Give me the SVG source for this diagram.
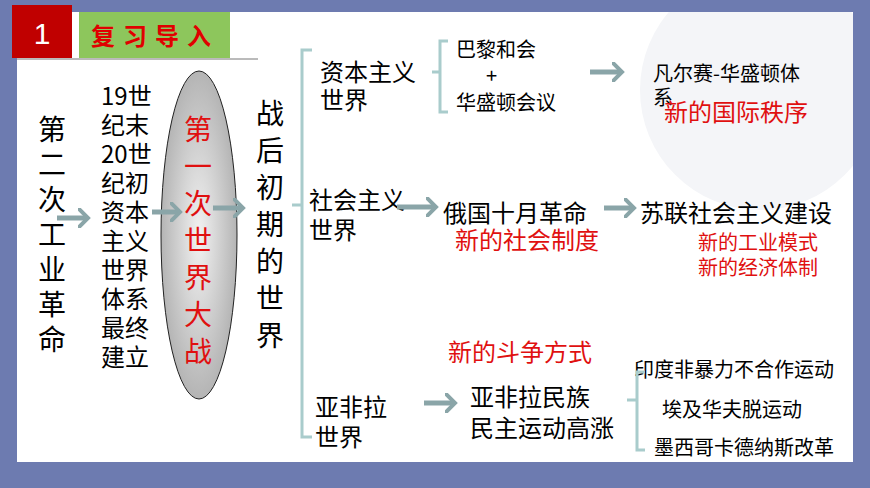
<svg xmlns="http://www.w3.org/2000/svg" width="870" height="488" viewBox="0 0 870 488">
<defs>
<radialGradient id="g" cx="50%" cy="50%" r="60%"><stop offset="0" stop-color="#f2f2f2"/><stop offset="1" stop-color="#a8a8a8"/></radialGradient>
<clipPath id="cp"><rect x="17" y="12" width="836" height="450"/></clipPath>
<marker id="ah" markerWidth="4" markerHeight="4" refX="2" refY="2" orient="auto" markerUnits="strokeWidth"><path d="M0,0 L2,2 L0,4" fill="none" stroke="#8aa5a8" stroke-width="0.8"/></marker>
</defs>
<style>
.k{font-family:"Noto Sans CJK SC","Liberation Sans",sans-serif;fill:#000}
.r{font-family:"Noto Sans CJK SC","Liberation Sans",sans-serif;fill:#e01010}
.a{stroke:#8aa5a8;stroke-width:5;fill:none;marker-end:url(#ah)}
.b{stroke:#a9cccc;stroke-width:3;fill:none}
</style>
<rect width="870" height="488" fill="#6d7bb0"/>
<rect x="17" y="12" width="836" height="450" fill="#fff"/>
<circle cx="760" cy="90" r="120" fill="#f4f5f8" clip-path="url(#cp)"/>
<rect x="12" y="5" width="60" height="53" fill="#c00000"/>
<text x="42" y="44" font-family="Liberation Sans,sans-serif" font-size="30" fill="#fff" text-anchor="middle">1</text>
<rect x="79" y="12" width="151" height="46" fill="#8dc65c"/>
<text x="155" y="45" font-family="Noto Sans CJK SC,sans-serif" font-size="24" font-weight="bold" fill="#e00000" text-anchor="middle" letter-spacing="8">复习导入</text>
<line x1="17" y1="59" x2="258" y2="59" stroke="#777" stroke-width="1"/>
<g id="n1"><text class="k" font-size="28"><tspan x="38" y="140">第</tspan><tspan x="38" y="175">二</tspan><tspan x="38" y="210">次</tspan><tspan x="38" y="245">工</tspan><tspan x="38" y="280">业</tspan><tspan x="38" y="315">革</tspan><tspan x="38" y="350">命</tspan></text></g>
<g id="n3"><ellipse cx="199" cy="235" rx="38" ry="164" fill="url(#g)" stroke="#222" stroke-width="1"/>
<text class="r" font-size="28"><tspan x="184" y="140">第</tspan><tspan x="184" y="177">一</tspan><tspan x="184" y="214">次</tspan><tspan x="184" y="251">世</tspan><tspan x="184" y="288">界</tspan><tspan x="184" y="325">大</tspan><tspan x="184" y="362">战</tspan></text></g>
<g id="n2"><text class="k" font-size="24"><tspan x="101" y="105">19世</tspan><tspan x="101" y="134">纪末</tspan><tspan x="101" y="163">20世</tspan><tspan x="101" y="192">纪初</tspan><tspan x="101" y="221">资本</tspan><tspan x="101" y="250">主义</tspan><tspan x="101" y="279">世界</tspan><tspan x="101" y="308">体系</tspan><tspan x="101" y="337">最终</tspan><tspan x="101" y="366">建立</tspan></text></g>
<g id="n4"><text class="k" font-size="28"><tspan x="256" y="124">战</tspan><tspan x="256" y="161">后</tspan><tspan x="256" y="198">初</tspan><tspan x="256" y="235">期</tspan><tspan x="256" y="272">的</tspan><tspan x="256" y="309">世</tspan><tspan x="256" y="346">界</tspan></text></g>
<g id="n5"><text class="k" font-size="24"><tspan x="320" y="81">资本主义</tspan><tspan x="320" y="109">世界</tspan></text></g>
<g id="n6"><text class="k" font-size="20"><tspan x="456" y="57">巴黎和会</tspan><tspan x="486" y="83">+</tspan><tspan x="456" y="110">华盛顿会议</tspan></text></g>
<g id="n7"><text class="k" font-size="20"><tspan x="653" y="81">凡尔赛-华盛顿体</tspan><tspan x="653" y="105">系</tspan></text><text class="r" font-size="24" x="664" y="121">新的国际秩序</text></g>
<g id="n8"><text class="k" font-size="24"><tspan x="309" y="209">社会主义</tspan><tspan x="309" y="239">世界</tspan></text></g>
<g id="n9"><text class="k" font-size="24" x="443" y="222">俄国十月革命</text><text class="r" font-size="24" x="455" y="249">新的社会制度</text></g>
<g id="n10"><text class="k" font-size="24" x="640" y="222">苏联社会主义建设</text><text class="r" font-size="20"><tspan x="698" y="250">新的工业模式</tspan><tspan x="698" y="275">新的经济体制</tspan></text></g>
<g id="n11"><text class="r" font-size="24" x="448" y="361">新的斗争方式</text></g>
<g id="n12"><text class="k" font-size="24"><tspan x="315" y="416">亚非拉</tspan><tspan x="315" y="446">世界</tspan></text></g>
<g id="n13"><text class="k" font-size="24"><tspan x="470" y="406">亚非拉民族</tspan><tspan x="470" y="437">民主运动高涨</tspan></text></g>
<g id="n14"><text class="k" font-size="20"><tspan x="634" y="377">印度非暴力不合作运动</tspan><tspan x="662" y="417">埃及华夫脱运动</tspan><tspan x="654" y="455">墨西哥卡德纳斯改革</tspan></text></g>
<g id="connectors">
<line class="a" x1="57" y1="218" x2="88" y2="218"/>
<line class="a" x1="152" y1="212" x2="180" y2="212"/>
<line class="a" x1="213" y1="208" x2="243" y2="208"/>
<line class="a" x1="590" y1="72" x2="622" y2="72"/>
<line class="a" x1="397" y1="207" x2="436" y2="207"/>
<line class="a" x1="604" y1="208" x2="634" y2="208"/>
<line class="a" x1="424" y1="403" x2="455" y2="403"/>
<path class="b" d="M312,50 H302 V437 H312 M302,205 H292"/>
<path class="b" d="M448,41 H440 V112 H448 M440,72 H432"/>
<path class="b" d="M645,372 H637 V450 H645 M637,400 H627"/>
</g>
</svg>
